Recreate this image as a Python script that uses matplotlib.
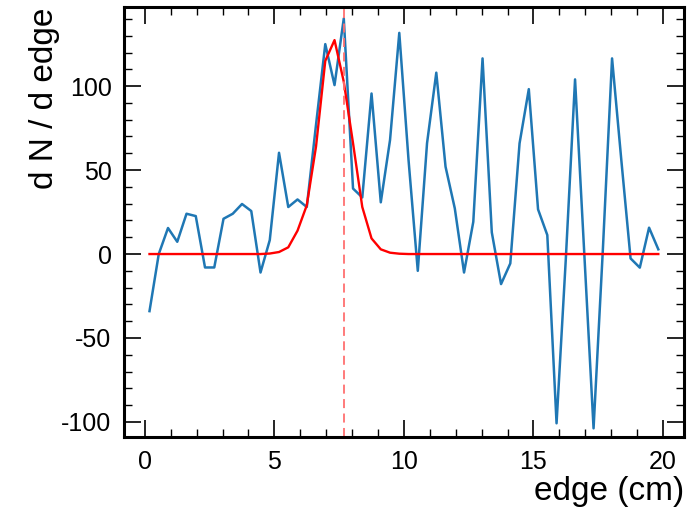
import numpy as np
import matplotlib.pyplot as plt
from matplotlib.ticker import MultipleLocator

# bin centres of 56 bins between 0 and 20 cm
edges = np.linspace(0, 20, 57)
x = 0.5 * (edges[1:] + edges[:-1])

# measured derivative dN/d edge
dn = [-34, 0, 15.5, 7.3, 24, 22.6, -8, -8, 21, 24,
      29.8, 25.6, -11, 8.3, 60.3, 28, 32.5, 28, 77, 125,
      100.6, 140.3, 39, 33.7, 95.6, 30.8, 67.9, 131.7, 56, -10,
      66, 108, 52, 27.2, -11, 19.2, 116.5, 12.9, -17.9, -5.6,
      65.9, 98.2, 26.6, 11.3, -100.8, -3, 104, 0, -103.8, 2,
      116.5, 56, -2.6, -8.1, 15.7, 2.8]

# fitted peak shape, read at the same bin centres
fit = [0, 0, 0, 0, 0, 0, 0, 0, 0, 0,
       0, 0, 0, 0.3, 1.2, 4, 13.9, 29, 64, 115,
       127.4, 102.6, 66, 28, 9.3, 2.8, 0.8, 0.2, 0, 0,
       0, 0, 0, 0, 0, 0, 0, 0, 0, 0,
       0, 0, 0, 0, 0, 0, 0, 0, 0, 0,
       0, 0, 0, 0, 0, 0]

edge_cut = 7.67

plt.rcParams['font.family'] = ['Liberation Sans', 'DejaVu Sans']
plt.rcParams['axes.unicode_minus'] = False

fig = plt.figure(figsize=(6.97, 5.13), dpi=100)
ax = fig.add_axes([0.178, 0.148, 0.803, 0.838])

ax.plot(x, dn, color='#1f77b4', lw=1.8)
ax.plot(x, fit, color='red', lw=1.7)
ax.axvline(edge_cut, color='#ff7070', lw=1.3, ls=(0, (5, 3)))

ax.set_ylim(-109, 147)
ax.xaxis.set_major_locator(MultipleLocator(5))
ax.xaxis.set_minor_locator(MultipleLocator(1))
ax.yaxis.set_major_locator(MultipleLocator(50))
ax.yaxis.set_minor_locator(MultipleLocator(10))
ax.tick_params(which='both', direction='in', top=True, right=True,
               labelsize=18, pad=9)
ax.tick_params(which='major', length=12, width=1.2)
ax.tick_params(which='minor', length=6, width=1.0)
for s in ax.spines.values():
    s.set_linewidth(2.2)

ax.set_xlabel('edge (cm)', fontsize=24, loc='right', labelpad=2)
ax.set_ylabel('d N / d edge', fontsize=24, loc='top', labelpad=1)

fig.savefig('out.png', dpi=100)
